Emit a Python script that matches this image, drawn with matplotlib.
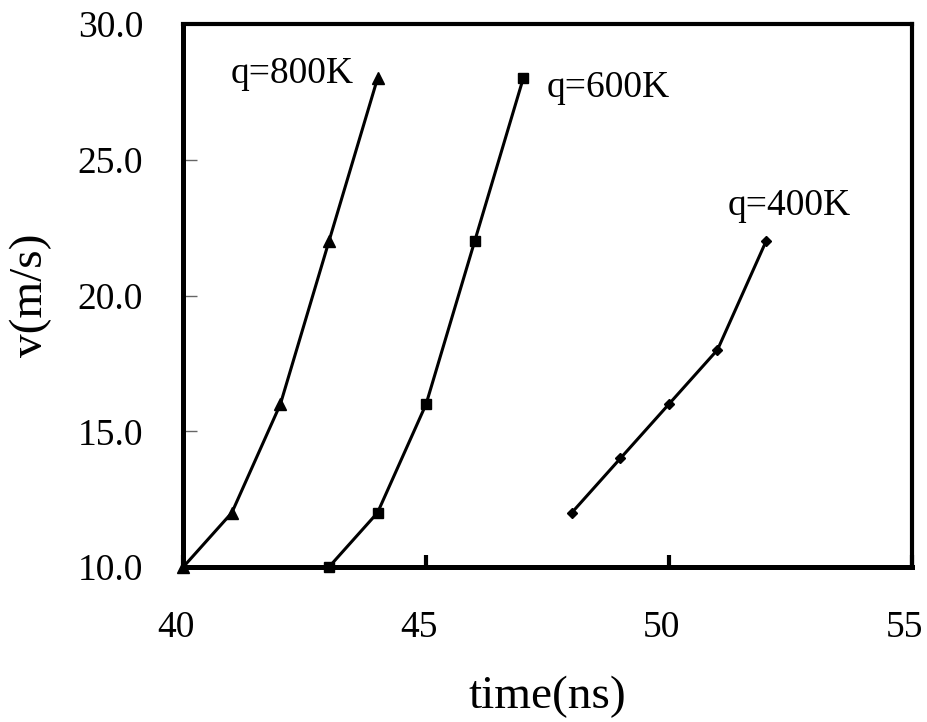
import matplotlib
matplotlib.use('Agg')
from matplotlib import pyplot as plt
from matplotlib.transforms import ScaledTranslation

plt.rcParams['font.family'] = ['Liberation Serif', 'DejaVu Serif']

# data
t_800 = [40, 41, 42, 43, 44]
v_800 = [10, 12, 16, 22, 28]
t_600 = [43, 44, 45, 46, 47]
v_600 = [10, 12, 16, 22, 28]
t_400 = [48, 49, 50, 51, 52]
v_400 = [12, 14, 16, 18, 22]

x_ticks = [40, 45, 50, 55]
y_ticks = [10, 15, 20, 25, 30]

fig = plt.figure(figsize=(9.28, 7.22), dpi=100)
ax = fig.add_axes([0.1975, 0.2147, 0.785, 0.752])

ax.plot(t_800, v_800, color='black', lw=2.2, marker='^', markersize=8, clip_on=False)
ax.plot(t_600, v_600, color='black', lw=2.2, marker='s', markersize=7, clip_on=False)
ax.plot(t_400, v_400, color='black', lw=2.2, marker='D', markersize=5, clip_on=False)

ax.text(40.98, 27.84, 'q=800K', fontsize=27, ha='left', va='baseline')
ax.text(47.49, 27.32, 'q=600K', fontsize=27, ha='left', va='baseline')
ax.text(51.2, 22.96, 'q=400K', fontsize=27, ha='left', va='baseline')

ax.set_xlim(40, 55)
ax.set_ylim(10, 30)
ax.set_xticks(x_ticks)
ax.set_yticks(y_ticks)
ax.set_yticklabels(['%.1f' % v for v in y_ticks])

ax.tick_params(axis='x', direction='in', length=9, width=3, color='black',
               labelsize=27, pad=31)
ax.tick_params(axis='y', direction='in', length=10, width=1, color='#666666',
               labelsize=27, pad=29)

# x tick labels sit a little left of their ticks in the original
shift = ScaledTranslation(-7 / 100, 0, fig.dpi_scale_trans)
for lbl in ax.get_xticklabels():
    lbl.set_transform(lbl.get_transform() + shift)

ax.spines['left'].set_linewidth(3.6)
ax.spines['bottom'].set_linewidth(3.6)
ax.spines['top'].set_linewidth(3.0)
ax.spines['right'].set_linewidth(3.0)

ax.set_xlabel('time(ns)', fontsize=34)
ax.set_ylabel('v(m/s)', fontsize=34)
ax.xaxis.set_label_coords(0.5, -0.2)
ax.yaxis.set_label_coords(-0.18, 0.5)

fig.savefig('out.png', dpi=100)
